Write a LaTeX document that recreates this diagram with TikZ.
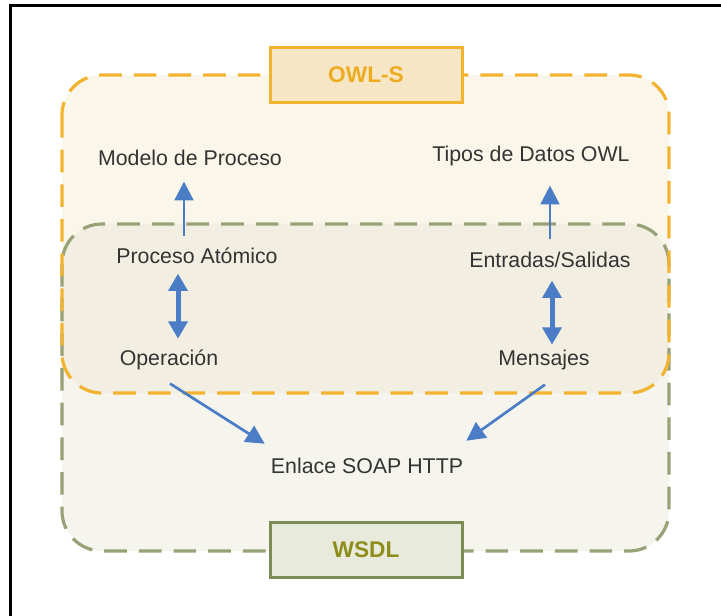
\documentclass[tikz,border=0pt]{standalone}
\usepackage{fontspec}
\setmainfont{Liberation Sans}
\usetikzlibrary{arrows.meta,calc}

\definecolor{owlline}{HTML}{F2B331}
\definecolor{owlfill}{HTML}{FBF6EA}
\definecolor{owlbox}{HTML}{F7E6C5}
\definecolor{owltext}{HTML}{EDAC1F}
\definecolor{wsdlline}{HTML}{7D8B55}
\definecolor{wsdlfill}{HTML}{EBE9DB}
\definecolor{wsdlbox}{HTML}{E8EADC}
\definecolor{wsdltext}{HTML}{8E8D1B}
\definecolor{arrowblue}{HTML}{4A7DC6}
\definecolor{txtgray}{HTML}{333333}

\tikzset{
  lbl/.style={font=\fontsize{16}{19}\selectfont, text=txtgray, text height=12pt, text depth=4pt, inner sep=6pt},
  tag/.style={font=\fontsize{17}{20}\selectfont\bfseries, minimum width=144pt, minimum height=41.25pt, line width=2.25pt},
  region/.style={dash pattern=on 17pt off 9pt, line width=2.4pt, rounded corners=30pt},
  thinarrow/.style={color=arrowblue, line width=2pt, -{Triangle[width=14pt,length=14pt]}},
  thickarrow/.style={color=arrowblue, line width=3.75pt, {Triangle[width=14pt,length=13pt]}-{Triangle[width=14pt,length=13pt]}},
}

\begin{document}
\begin{tikzpicture}[x=0.75pt,y=-0.75pt]
\useasboundingbox (0,0) rectangle (721,616);

% Draw the frame
\draw[line width=2.25pt] (10,616) -- (10,6) -- (721,6);

% Draw the two regions, the WSDL one over the OWL-S one
\fill[owlfill, rounded corners=30pt] (62,75) rectangle (669,393);
\fill[wsdlfill, opacity=0.5, rounded corners=30pt] (62,224) rectangle (669,551);
\draw[region, color=wsdlline!80] (62,224) rectangle (669,551);
\draw[region, color=owlline] (62,75) rectangle (669,393);

% Draw the two tags
\node[tag, draw=owlline, fill=owlbox, text=owltext] (owls) at (366,75) {OWL-S};
\node[tag, draw=wsdlline, fill=wsdlbox, text=wsdltext] (wsdl) at (366,550) {WSDL};

% Draw the labels
\node[lbl, anchor=base] (mod) at (190,166) {Modelo de Proceso};
\node[lbl, anchor=base] (tip) at (531,162) {Tipos de Datos OWL};
\node[lbl, anchor=base] (proc) at (197,264) {Proceso Atómico};
\node[lbl, anchor=base] (ent) at (550,268) {Entradas/Salidas};
\node[lbl, anchor=base] (op) at (169,366) {Operación};
\node[lbl, anchor=base] (mens) at (544,366) {Mensajes};
\node[lbl, anchor=base] (enl) at (367,474) {Enlace SOAP HTTP};

% Draw the arrows
\draw[thinarrow] ($(proc.north)+(-13,-4)$) -- ($(mod.south)+(-6,2)$);
\draw[thinarrow] ($(ent.north)+(0,-5)$) -- ($(tip.south)+(19,10)$);
\draw[thickarrow] ($(proc.south)+(-19,-4)$) -- ($(op.north)+(9,-3)$);
\draw[thickarrow] ($(ent.south)+(2,-1)$) -- ($(mens.north)+(8,3)$);
\draw[thinarrow] ($(op.south)+(1,4)$) -- ($(enl.north west)+(2,-6)$);
\draw[thinarrow] ($(mens.south)+(1,5)$) -- ($(enl.north east)+(-5,-9)$);

\end{tikzpicture}
\end{document}
